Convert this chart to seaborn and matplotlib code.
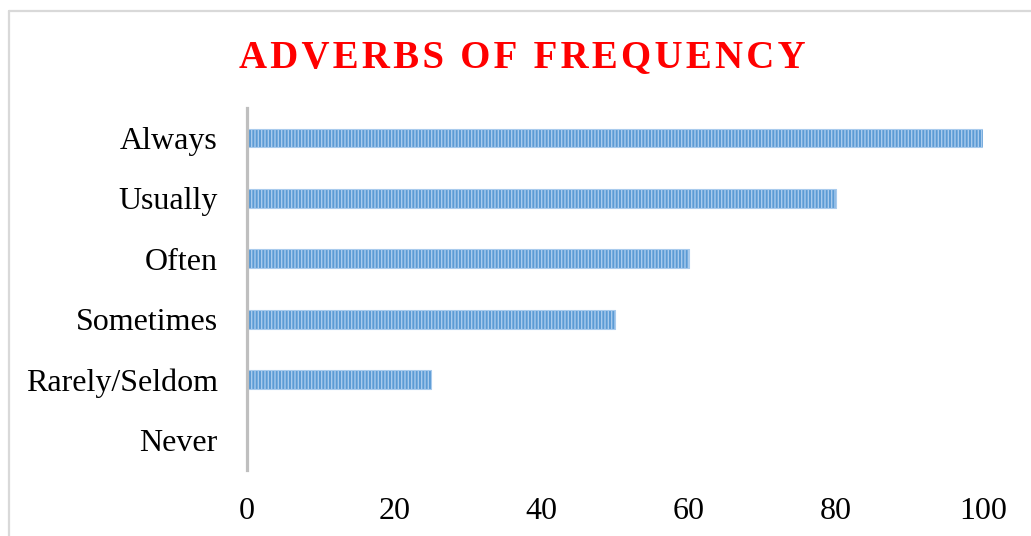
import matplotlib
matplotlib.use("Agg")
import matplotlib.pyplot as plt
from matplotlib.lines import Line2D
import seaborn as sns
import pandas as pd

# chart data
categories = ["Always", "Usually", "Often", "Sometimes", "Rarely/Seldom", "Never"]
values = [100, 80, 60, 50, 25, 0]
x_ticks = [0, 20, 40, 60, 80, 100]

sns.set_style("white")
plt.rcParams['font.family'] = ['Liberation Serif', 'DejaVu Serif']
plt.rcParams['hatch.linewidth'] = 1.0

df = pd.DataFrame({'Adverb': categories, 'Value': values})

fig = plt.figure(figsize=(10.31, 5.36), dpi=100)
W, H = 1031, 536
ax = fig.add_axes([247 / W, 1 - 470.2 / H, 736 / W, 362.4 / H])

sns.barplot(data=df, x='Value', y='Adverb', orient='h', ax=ax, width=0.31,
            color='#5b9bd5', saturation=1)
for bar in ax.patches:
    bar.set_hatch('|||||')
    bar.set_edgecolor('#a9cbed')
    bar.set_linewidth(0.8)

ax.set_xlim(0, 100)
ax.set_xticks(x_ticks)
ax.set_xlabel('')
ax.set_ylabel('')
ax.tick_params(axis='both', length=0, labelsize=23, colors='#000000')
ax.tick_params(axis='y', pad=21)
ax.tick_params(axis='x', pad=19)

for side in ['top', 'right', 'bottom']:
    ax.spines[side].set_visible(False)
ax.spines['left'].set_color('#bfbfbf')
ax.spines['left'].set_linewidth(2.3)

# letter-spaced title
title = "\u200a".join("ADVERBS OF FREQUENCY")
fig.text(522 / W, 1 - 67 / H, title, ha='center', va='baseline', color='#ff0000',
         fontsize=28, fontweight='bold')

# outer chart border (cropped on right and bottom)
border = '#d9d9d9'
fig.add_artist(Line2D([9 / W, 9 / W], [0, 1 - 11 / H], color=border, lw=1.6,
                      transform=fig.transFigure))
fig.add_artist(Line2D([9 / W, 1], [1 - 11 / H, 1 - 11 / H], color=border, lw=1.6,
                      transform=fig.transFigure))

fig.savefig('out.png', dpi=100)
